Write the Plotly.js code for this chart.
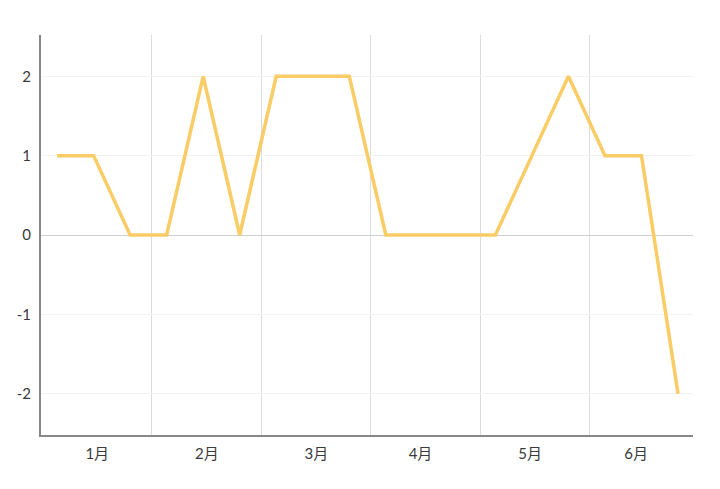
<!DOCTYPE html>
<html><head><meta charset="utf-8">
<script src="https://cdn.plot.ly/plotly-3.0.1.min.js"></script>
<style>html,body{margin:0;padding:0;background:#fff}#chart{width:720px;height:489px}</style>
</head><body><div id="chart"></div>
<script>
const values = [1,1,0,0,2,0,2,2,2,0,0,0,0,1,2,1,1,-2];
const months = ['1月','2月','3月','4月','5月','6月'];
const pointsPerMonth = 3;

const xs = values.map((v,i)=>i);
const labelPos = [1.1, 4.1, 7.1, 9.95, 12.95, 15.85];
const gridPos = months.slice(1).map((m,i)=>(i+1)*pointsPerMonth-0.41);

Plotly.newPlot('chart',[{
  x: xs, y: values, type:'scatter', mode:'lines',
  line:{color:'#f9cc66', width:3.5}, hoverinfo:'none'
}],{
  width:720, height:489,
  margin:{l:41,r:27,t:35,b:54},
  paper_bgcolor:'#fff', plot_bgcolor:'#fff',
  font:{family:'Lato, "Noto Sans CJK SC", sans-serif', size:15, color:'#3a3a3a'},
  showlegend:false,
  xaxis:{
    range:[-0.44,17.41], tickmode:'array', tickvals:labelPos, ticktext:months,
    showgrid:false, zeroline:false, showline:true, linecolor:'#888', linewidth:2,
    ticks:'', ticklen:0, ticklabelstandoff:4,
    minor:{tickmode:'array', tickvals:gridPos, showgrid:true, gridcolor:'#dcdcdc', gridwidth:1, ticks:''}
  },
  yaxis:{
    range:[-2.52,2.52], tickvals:[-2,-1,0,1,2], ticktext:['-2','-1','0','1','2'],
    showgrid:true, gridcolor:'#f2f2f2', gridwidth:1,
    zeroline:true, zerolinecolor:'#cfcfcf', zerolinewidth:1,
    showline:true, linecolor:'#888', linewidth:2, ticks:'', ticklen:0, ticklabelstandoff:5
  }
},{displayModeBar:false, staticPlot:true});
</script></body></html>
